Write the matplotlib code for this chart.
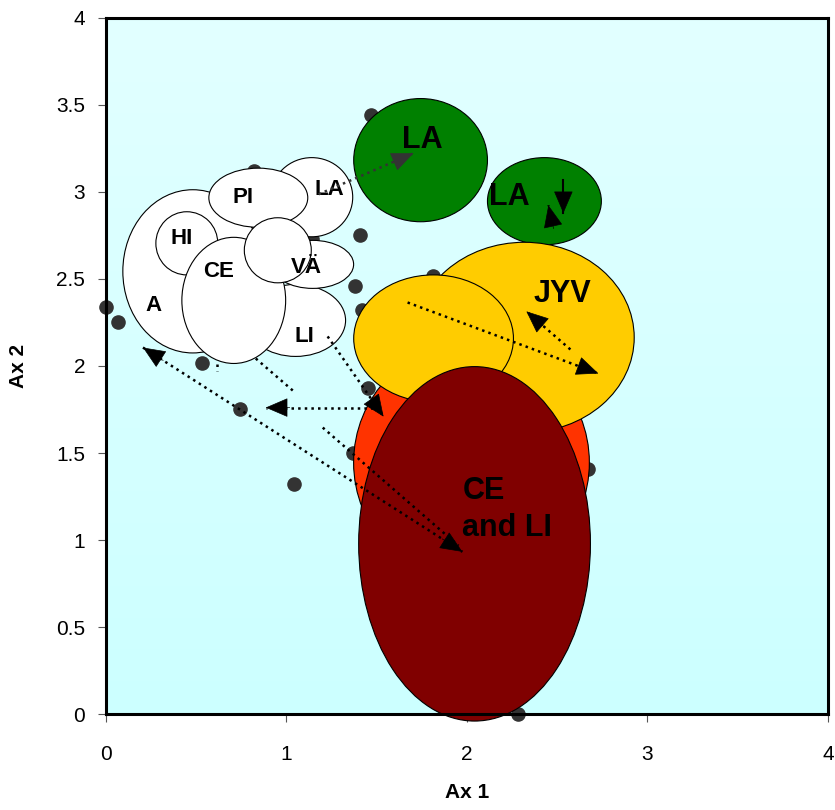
import numpy as np
import matplotlib
matplotlib.use("Agg")
import matplotlib.pyplot as plt
from matplotlib.patches import Ellipse, FancyArrowPatch
from matplotlib.colors import LinearSegmentedColormap

plt.rcParams['font.family'] = ['Liberation Sans', 'DejaVu Sans']

# scatter points (Ax 1, Ax 2)
point_x = [0.0, 0.066, 0.53, 0.74, 1.04, 1.47, 1.405, 1.38, 1.42, 1.81,
           1.45, 1.37, 2.28, 2.67, 0.82, 0.79, 1.14]
point_y = [2.34, 2.25, 2.02, 1.755, 1.32, 3.44, 2.75, 2.46, 2.32, 2.52,
           1.876, 1.50, 0.0, 1.41, 3.12, 2.78, 2.73]

# ellipses in drawing order: centre x, centre y, width, height, colour
ell_x = [0.481, 0.448, 1.051, 0.708, 1.140, 0.844, 1.145, 0.952, 1.743, 2.429,
         2.025, 2.318, 1.815, 2.042]
ell_y = [2.544, 2.705, 2.262, 2.377, 2.970, 2.967, 2.584, 2.665, 3.183, 2.947,
         1.445, 2.164, 2.158, 0.978]
ell_w = [0.775, 0.343, 0.553, 0.575, 0.454, 0.548, 0.454, 0.371, 0.741, 0.631,
         1.306, 1.217, 0.885, 1.284]
ell_h = [0.938, 0.363, 0.414, 0.725, 0.455, 0.340, 0.276, 0.374, 0.708, 0.501,
         1.381, 1.094, 0.731, 2.037]
ell_colors = ["white"] * 8 + ["#008000", "#008000", "#FF3300", "#FFCC00",
                              "#FFCC00", "#800000"]

# group labels
lab_text = ["A", "HI", "CE", "PI", "LA", "VÄ", "LI", "LA", "LA", "JYV", "CE\nand LI"]
lab_x = [0.266, 0.420, 0.625, 0.758, 1.239, 1.112, 1.101, 1.754, 2.235, 2.528, 1.975]
lab_y = [2.348, 2.734, 2.544, 2.970, 3.016, 2.567, 2.170, 3.298, 2.970, 2.411, 1.174]
lab_size = [16, 16, 16, 16, 16, 16, 16, 22, 22, 22, 22]
lab_ha = ["center"] * 10 + ["left"]

# arrows: start, end, heads, line style
arr_x0 = [1.178, 2.534, 2.468, 1.671, 2.573, 1.228, 1.477, 0.830, 0.205, 1.201, 0.614]
arr_y0 = [2.987, 3.068, 2.845, 2.365, 2.095, 2.170, 1.761, 2.043, 2.106, 1.646, 2.014]
arr_x1 = [1.704, 2.534, 2.451, 2.728, 2.329, 1.538, 0.885, 1.035, 1.975, 1.953, 0.614]
arr_y1 = [3.223, 2.878, 2.924, 1.957, 2.314, 1.709, 1.761, 1.859, 0.932, 0.967, 1.974]
arr_head0 = [False, False, False, False, False, False, False, False, True, False, False]
arr_head1 = [True, True, True, True, True, True, True, False, True, False, False]
arr_ls = [":", "-", ":", ":", ":", ":", ":", ":", ":", ":", ":"]
arr_color = ["#333333"] + ["black"] * 10

fig = plt.figure(figsize=(8.35, 8.10), dpi=100)
ax = fig.add_axes([0.1269, 0.1185, 0.8647, 0.8593])
ax.set_xlim(0, 4)
ax.set_ylim(0, 4)

# background gradient
cmap = LinearSegmentedColormap.from_list("bg", ["#CCFFFF", "#E2FFFF"])
grad = np.linspace(0, 1, 256).reshape(-1, 1)
ax.imshow(grad, extent=[0, 4, 0, 4], origin="lower", cmap=cmap,
          aspect="auto", zorder=0)

ax.scatter(point_x, point_y, s=90, color="#333333", zorder=2, clip_on=False)

for i in range(len(ell_x)):
    e = Ellipse((ell_x[i], ell_y[i]), ell_w[i], ell_h[i],
                facecolor=ell_colors[i], edgecolor="black", lw=0.8,
                zorder=3 + i * 0.01, clip_on=False)
    ax.add_patch(e)

for i in range(len(lab_text)):
    ax.text(lab_x[i], lab_y[i], lab_text[i], fontsize=lab_size[i],
            fontweight="bold", ha=lab_ha[i], va="center", zorder=5,
            linespacing=1.3)


def add_head(xa, ya, xb, yb, color, size=24):
    # solid triangle with its tip at (xb, yb), pointing away from (xa, ya)
    pa = ax.transData.transform((xa, ya))
    pb = ax.transData.transform((xb, yb))
    d = (pb - pa) / np.hypot(*(pb - pa))
    base = ax.transData.inverted().transform(pb - d * size)
    head = FancyArrowPatch(tuple(base), (xb, yb),
                           arrowstyle="-|>,head_length=1.05,head_width=0.45",
                           mutation_scale=14, lw=0.5, color=color,
                           shrinkA=0, shrinkB=0, zorder=6)
    ax.add_patch(head)


for i in range(len(arr_x0)):
    ax.plot([arr_x0[i], arr_x1[i]], [arr_y0[i], arr_y1[i]], ls=arr_ls[i],
            color=arr_color[i], lw=1.8 if arr_ls[i] == ":" else 1.5, zorder=6)
    if arr_head1[i]:
        add_head(arr_x0[i], arr_y0[i], arr_x1[i], arr_y1[i], arr_color[i])
    if arr_head0[i]:
        add_head(arr_x1[i], arr_y1[i], arr_x0[i], arr_y0[i], arr_color[i])

ax.set_xticks([0, 1, 2, 3, 4])
ax.set_xticklabels(["0", "1", "2", "3", "4"])
ax.set_yticks([0, 0.5, 1, 1.5, 2, 2.5, 3, 3.5, 4])
ax.set_yticklabels(["0", "0.5", "1", "1.5", "2", "2.5", "3", "3.5", "4"])
ax.tick_params(axis="x", direction="out", length=6, width=0.8, color="#555555",
               labelsize=15, pad=16)
ax.tick_params(axis="y", direction="out", length=6, width=0.8, color="#555555",
               labelsize=15, pad=9)
for side in ["left", "bottom", "top", "right"]:
    ax.spines[side].set_linewidth(2.2)
    ax.spines[side].set_zorder(7)

ax.set_xlabel("Ax 1", fontsize=15, fontweight="bold", labelpad=14)
ax.set_ylabel("Ax 2", fontsize=15, fontweight="bold", labelpad=20)

fig.savefig("out.png", dpi=100)
